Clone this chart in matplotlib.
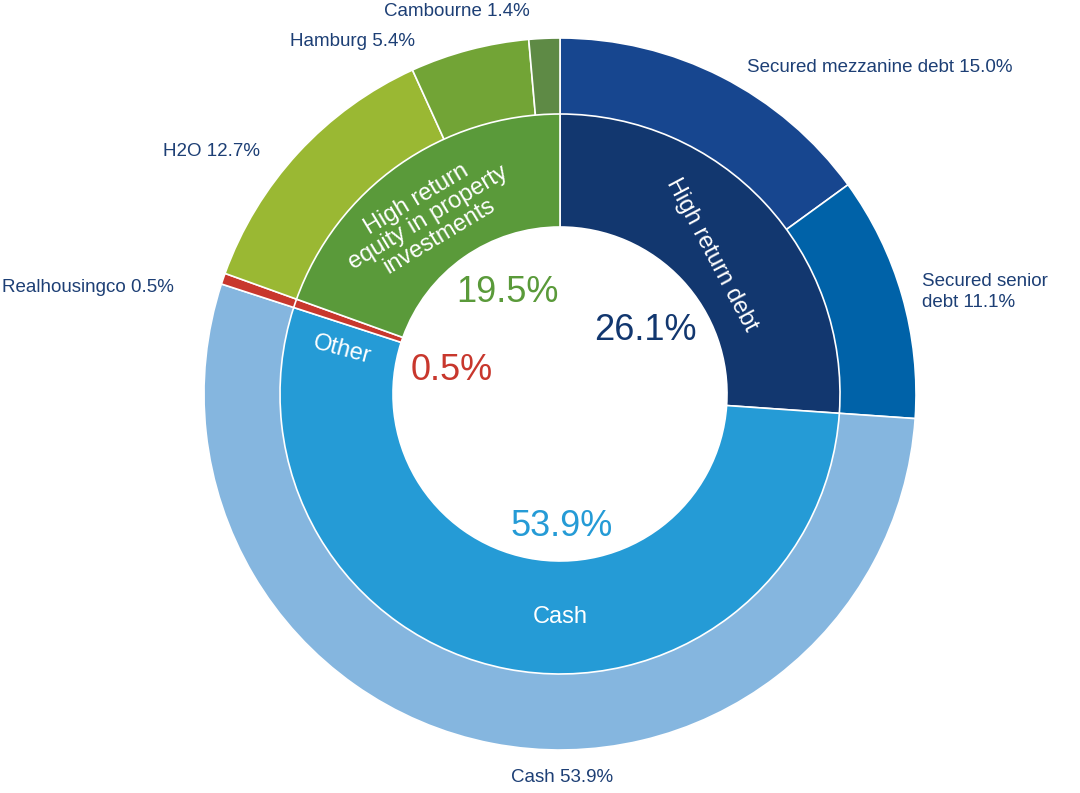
import matplotlib.pyplot as plt

outer_labels = ["Secured mezzanine debt 15.0%", "Secured senior\ndebt 11.1%", "Cash 53.9%",
                "Realhousingco 0.5%", "H2O 12.7%", "Hamburg 5.4%", "Cambourne 1.4%"]
outer_values = [15.0, 11.1, 53.9, 0.5, 12.7, 5.4, 1.4]
outer_colors = ["#17468f", "#0062a8", "#85b6df", "#c8372d", "#9ab833", "#72a436", "#5e8a45"]

inner_names = ["High return debt", "Cash", "Other", "High return\nequity in property\ninvestments"]
inner_values = [26.1, 53.9, 0.5, 19.5]
inner_colors = ["#12376f", "#259bd6", "#c8372d", "#5a9a3a"]

H = 793
plt.rcParams["font.family"] = "Liberation Sans"
fig = plt.figure(figsize=(10.8, 7.93), dpi=100)
ax = fig.add_axes([0, 0, 1, 1])
ax.set_xlim(0, 1080)
ax.set_ylim(0, H)
ax.set_aspect("equal")
ax.axis("off")

cx, cy = 560, H - 394
ax.pie(outer_values, colors=outer_colors, radius=356, center=(cx, cy), startangle=90,
       counterclock=False, frame=True, wedgeprops=dict(width=77, edgecolor="white", linewidth=1.2))
ax.pie(inner_values, colors=inner_colors, radius=280, center=(cx, cy), startangle=90,
       counterclock=False, frame=True, wedgeprops=dict(width=113, edgecolor="white", linewidth=1.2))
ax.set_xlim(0, 1080)
ax.set_ylim(0, H)
ax.axis("off")

txt = "#1d3f75"
# outer labels (pixel positions, y from top)
pos = [(747, 68, "left"), (922, 292, "left"), (562, 777, "center"), (2, 287, "left"),
       (163, 152, "left"), (290, 42, "left"), (384, 12, "left")]
for lab, (x, y, ha) in zip(outer_labels, pos):
    ax.text(x, H - y, lab, ha=ha, va="center", fontsize=13.5, color=txt, linespacing=1.3)

# inner ring names
inner_pos = [(712, 255, -62), (560, 617, 0), (342, 350, -15), (428, 218, 31)]
for name, (x, y, r) in zip(inner_names, inner_pos):
    ax.text(x, H - y, name, ha="center", va="center", fontsize=17, color="white",
            rotation=r, rotation_mode="anchor", linespacing=1.0)

# percentages
pct_pos = [(645, 330), (562, 527), (452, 370), (507, 293)]
pct_colors = ["#12376f", "#259bd6", "#c8372d", "#5a9a3a"]
for v, (x, y), c in zip(inner_values, pct_pos, pct_colors):
    ax.text(x, H - y, f"{v}%", ha="center", va="center", fontsize=26, color=c)

fig.savefig("out.png", dpi=100)
